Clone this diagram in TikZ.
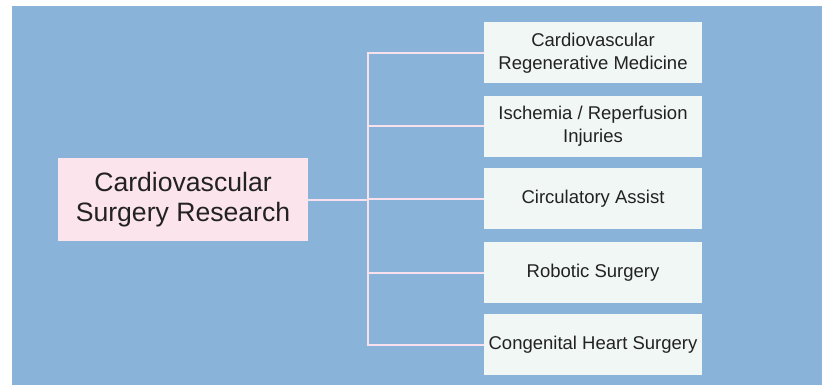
\documentclass[tikz,border=0pt]{standalone}
\usepackage{fontspec}
\setmainfont{Liberation Sans}
\definecolor{bgblue}{HTML}{8AB3DA}
\definecolor{rootfill}{HTML}{FCE4EC}
\definecolor{leaffill}{HTML}{F1F7F4}
\definecolor{linkpink}{HTML}{F8E1EC}
\definecolor{ink}{HTML}{222222}
\begin{document}
\begin{tikzpicture}[x=1pt,y=-1pt,
  root/.style={fill=rootfill, draw=none, minimum width=250pt, minimum height=83pt,
    align=center, text=ink, font=\fontsize{26.6}{30.7}\selectfont, inner sep=0pt},
  leaf/.style={fill=leaffill, draw=none, minimum width=218pt, minimum height=61pt,
    align=center, text=ink, font=\fontsize{18.5}{23}\selectfont, inner sep=0pt},
  link/.style={draw=linkpink, line width=2pt}]
  \useasboundingbox (0,0) rectangle (825,385);
  \fill[bgblue] (12,6) rectangle (822,385);

  \node[root] (root) at (183,199.5) {Cardiovascular\\Surgery Research};

  \node[leaf] (l1) at (593,53) {Cardiovascular\\Regenerative Medicine};
  \node[leaf] (l2) at (593,126.5) {Ischemia / Reperfusion\\Injuries};
  \node[leaf] (l3) at (593,198.5) {Circulatory Assist};
  \node[leaf] (l4) at (593,272.5) {Robotic Surgery};
  \node[leaf] (l5) at (593,344.5) {Congenital Heart Surgery};

  % trunk with branches to each topic
  \coordinate (top) at (368,0 |- l1.west);
  \coordinate (bot) at (368,0 |- l5.west);
  \draw[link] (l1.west) -- (368,0 |- l1.west) -- (368,0 |- l5.west) -- (l5.west);
  \draw[link] (root.east) -- (368,0 |- root.east);
  \draw[link] (368,0 |- l2.west) -- (l2.west);
  \draw[link] (368,0 |- l3.west) -- (l3.west);
  \draw[link] (368,0 |- l4.west) -- (l4.west);
\end{tikzpicture}
\end{document}
